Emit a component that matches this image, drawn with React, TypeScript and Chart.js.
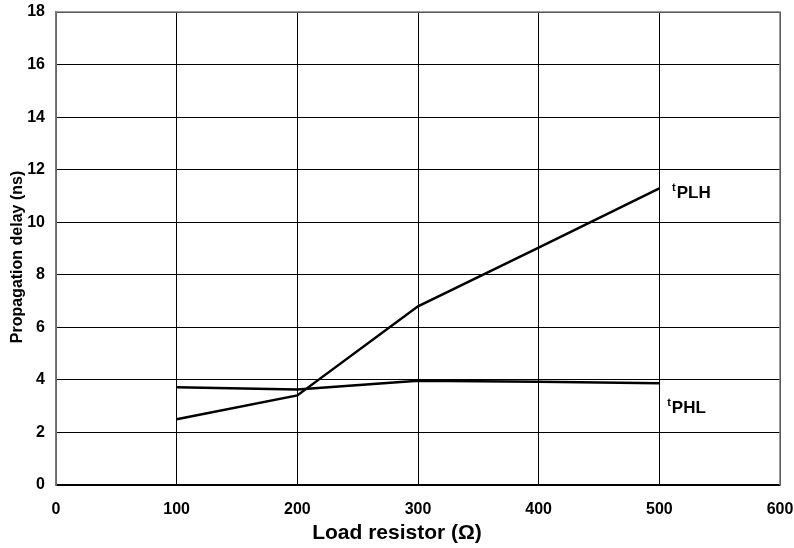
import React, { useEffect, useRef } from "react";
import { Chart, registerables } from "chart.js";

Chart.register(...registerables);

const loadResistor = [100, 200, 300, 400, 500];
const tPLH = [2.5, 3.41, 6.8, 9.03, 11.29];
const tPHL = [3.72, 3.63, 3.97, 3.93, 3.87];
const seriesNames = ["PLH", "PHL"];
const xTitle = "Load resistor (Ω)";
const yTitle = "Propagation delay (ns)";

const FONT = "'Liberation Sans', Arial, sans-serif";

const overlay = {
  id: "overlay",
  afterDatasetsDraw(chart: any) {
    const { ctx, chartArea } = chart;
    const xs = chart.scales.x;
    const ys = chart.scales.y;
    ctx.save();
    // plot border (left, top, right in grey)
    ctx.strokeStyle = "#7a7a7a";
    ctx.lineWidth = 1.5;
    ctx.beginPath();
    ctx.moveTo(chartArea.left, chartArea.bottom);
    ctx.lineTo(chartArea.left, chartArea.top);
    ctx.lineTo(chartArea.right, chartArea.top);
    ctx.lineTo(chartArea.right, chartArea.bottom);
    ctx.stroke();

    // series labels
    ctx.fillStyle = "#000";
    ctx.textBaseline = "alphabetic";
    ctx.textAlign = "left";
    const drawLabel = (name: string, x: number, y: number) => {
      ctx.font = `bold 11px ${FONT}`;
      ctx.fillText("t", x, y - 7);
      const tw = ctx.measureText("t").width;
      ctx.font = `bold 17px ${FONT}`;
      ctx.fillText(name, x + tw + 1, y);
    };
    drawLabel(seriesNames[0], xs.getPixelForValue(510.5), ys.getPixelForValue(10.92));
    drawLabel(seriesNames[1], xs.getPixelForValue(506.5), ys.getPixelForValue(2.74));

    // axis titles
    ctx.font = `bold 21px ${FONT}`;
    ctx.textAlign = "center";
    ctx.textBaseline = "alphabetic";
    ctx.fillText(xTitle, 397, 539);
    ctx.save();
    ctx.translate(22, 257);
    ctx.rotate(-Math.PI / 2);
    ctx.font = `bold 16px ${FONT}`;
    ctx.fillText(yTitle, 0, 0);
    ctx.restore();
    ctx.restore();
  },
};

export default function App() {
  const ref = useRef<HTMLCanvasElement>(null);
  useEffect(() => {
    document.body.style.margin = "0";
    const canvas = ref.current!;
    const chart = new Chart(canvas, {
      type: "line",
      data: {
        datasets: [
          {
            label: "tPLH",
            data: loadResistor.map((x, i) => ({ x, y: tPLH[i] })),
            borderColor: "#000",
            borderWidth: 2.5,
            pointRadius: 0,
            tension: 0,
          },
          {
            label: "tPHL",
            data: loadResistor.map((x, i) => ({ x, y: tPHL[i] })),
            borderColor: "#000",
            borderWidth: 2.5,
            pointRadius: 0,
            tension: 0,
          },
        ],
      },
      options: {
        animation: false,
        responsive: false,
        devicePixelRatio: 1,
        layout: { padding: { left: 0, top: 12, right: 14, bottom: 0 } },
        plugins: { legend: { display: false }, tooltip: { enabled: false } },
        scales: {
          x: {
            type: "linear",
            min: 0,
            max: 600,
            ticks: {
              stepSize: 100,
              color: "#000",
              font: { family: FONT, size: 16, weight: "bold" },
              padding: 15,
              maxRotation: 0,
            },
            grid: { color: "#000", lineWidth: 1, drawTicks: false },
            border: { display: true, color: "#000", width: 1.5 },
            afterFit(scale: any) {
              scale.height = 63;
              scale.paddingLeft = 0;
              scale.paddingRight = 0;
            },
          },
          y: {
            min: 0,
            max: 18,
            ticks: {
              stepSize: 2,
              color: "#000",
              font: { family: FONT, size: 16, weight: "bold" },
              padding: 11,
            },
            grid: { color: "#000", lineWidth: 1, drawTicks: false },
            border: { display: true, color: "#7a7a7a", width: 1.5 },
            afterFit(scale: any) {
              scale.width = 56;
              scale.paddingTop = 0;
              scale.paddingBottom = 0;
            },
          },
        },
      },
      plugins: [overlay],
    });
    return () => chart.destroy();
  }, []);
  return (
    <div style={{ width: 794, height: 548, background: "#fff" }}>
      <canvas ref={ref} width={794} height={548} style={{ display: "block" }} />
    </div>
  );
}
